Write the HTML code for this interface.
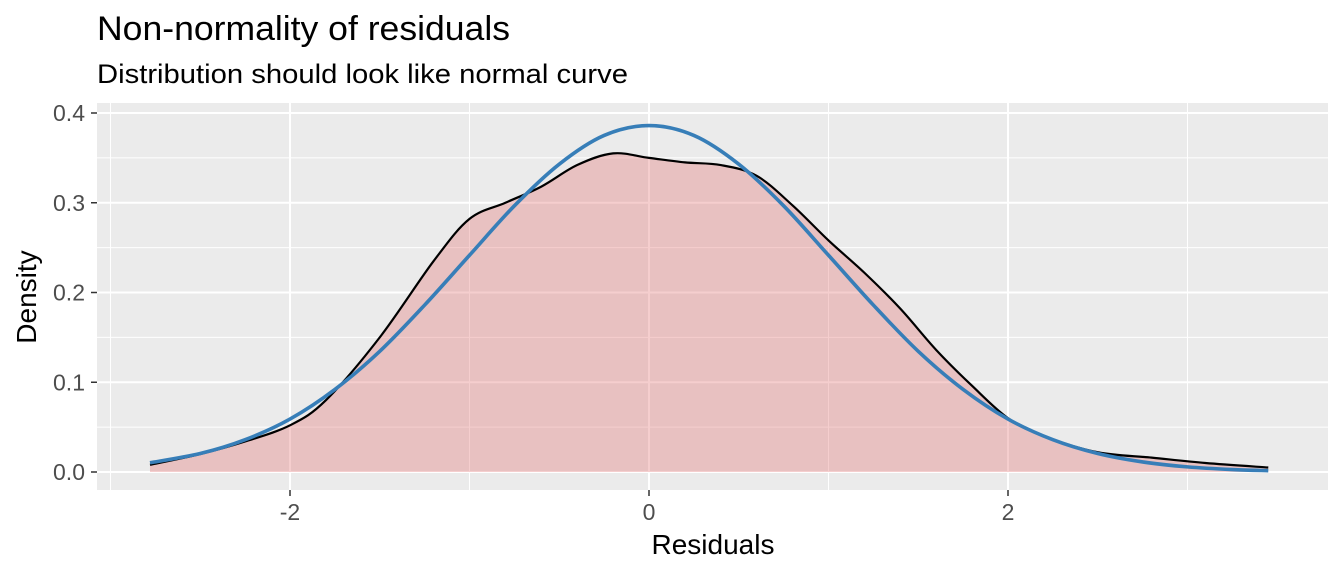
<!DOCTYPE html>
<html><head><meta charset="utf-8"><style>
body{margin:0;background:#fff;font-family:"Liberation Sans",Arial,sans-serif}
svg text{font-family:"Liberation Sans",Arial,sans-serif}
</style></head><body>
<svg id="chart" width="1344" height="576" xmlns="http://www.w3.org/2000/svg">
<text x="97" y="40" font-size="34" textLength="413" lengthAdjust="spacingAndGlyphs" fill="#000">Non-normality of residuals</text>
<text x="97" y="83" font-size="27" textLength="531" lengthAdjust="spacingAndGlyphs" fill="#000">Distribution should look like normal curve</text>
<rect x="97" y="103" width="1231" height="387" fill="#ebebeb"/>
<g id="grid"></g>
<g id="marks"></g>
<g id="axes"></g>
<text x="713" y="554" font-size="28" text-anchor="middle" fill="#000">Residuals</text>
<text transform="translate(36,297) rotate(-90)" font-size="28" text-anchor="middle" fill="#000">Density</text>
</svg>
<script>
const densX=[-2.78,-2.5,-2.25,-2.0,-1.8,-1.5,-1.2,-1.0,-0.8,-0.6,-0.4,-0.2,0,0.2,0.4,0.6,0.8,1.0,1.2,1.4,1.6,1.8,2.0,2.2,2.5,2.8,3.1,3.45];
const densY=[0.008,0.02,0.034,0.052,0.08,0.15,0.235,0.282,0.300,0.318,0.342,0.355,0.350,0.345,0.342,0.330,0.297,0.258,0.222,0.182,0.136,0.096,0.060,0.040,0.022,0.016,0.010,0.005];
const normX=[-2.78,-2.5,-2.25,-2,-1.75,-1.5,-1.25,-1,-0.75,-0.5,-0.25,0,0.25,0.5,0.75,1,1.25,1.5,1.75,2,2.25,2.5,2.75,3,3.25,3.45];
const normY=[0.0103,0.0206,0.036,0.059,0.092,0.1345,0.186,0.2415,0.2966,0.343,0.375,0.386,0.375,0.343,0.2966,0.2415,0.186,0.1345,0.092,0.059,0.036,0.0206,0.0112,0.0057,0.0027,0.0015];
const xTicks=[-2,0,2];
const xTickLabels=["-2","0","2"];
const yTicks=[0,0.1,0.2,0.3,0.4];
const yTickLabels=["0.0","0.1","0.2","0.3","0.4"];
const X=v=>649+v*179.5, Y=v=>472-v*897.5;
const NS="http://www.w3.org/2000/svg";
function mk(tag,attrs,parent){const e=document.createElementNS(NS,tag);for(const k in attrs)e.setAttribute(k,attrs[k]);parent.appendChild(e);return e;}
const grid=document.getElementById('grid'),marks=document.getElementById('marks'),axes=document.getElementById('axes');
[-3,-1,1,3].forEach(v=>{const l=mk('line',{x1:X(v),x2:X(v),y1:103,y2:490,stroke:'#fff','stroke-width':1},grid);

});
[0.05,0.15,0.25,0.35].forEach(v=>{const l=mk('line',{x1:97,x2:1328,y1:Y(v),y2:Y(v),stroke:'#fff','stroke-width':1},grid);

});
xTicks.forEach((v,i)=>{const l=mk('line',{x1:X(v),x2:X(v),y1:103,y2:490,stroke:'#fff','stroke-width':2},grid);


const t=mk('line',{x1:X(v),x2:X(v),y1:490,y2:496,stroke:'#333','stroke-width':1.5},axes);


const tx=mk('text',{x:X(v),y:520,'font-size':23,'text-anchor':'middle',fill:'#4d4d4d'},axes);tx.textContent=xTickLabels[i];

});
yTicks.forEach((v,i)=>{const l=mk('line',{x1:97,x2:1328,y1:Y(v),y2:Y(v),stroke:'#fff','stroke-width':2},grid);


const t=mk('line',{x1:91,x2:97,y1:Y(v),y2:Y(v),stroke:'#333','stroke-width':1.5},axes);


const tx=mk('text',{x:85,y:Y(v)+8,'font-size':23,'text-anchor':'end',fill:'#4d4d4d'},axes);tx.textContent=yTickLabels[i];

});
function path(xs,ys){const p=xs.map((x,i)=>[X(x),Y(ys[i])]);let d=`M${p[0][0]},${p[0][1]}`;
for(let i=0;i<p.length-1;i++){const p0=p[i-1]||p[i],p1=p[i],p2=p[i+1],p3=p[i+2]||p2;
d+=` C${p1[0]+(p2[0]-p0[0])/6},${p1[1]+(p2[1]-p0[1])/6} ${p2[0]-(p3[0]-p1[0])/6},${p2[1]-(p3[1]-p1[1])/6} ${p2[0]},${p2[1]}`;}return d;}
const dd=path(densX,densY);
const area=mk('path',{d:dd+` L${X(densX[densX.length-1])},${Y(0)} L${X(densX[0])},${Y(0)} Z`,fill:'rgba(227,115,115,0.35)',stroke:'none'},marks);


const dl=mk('path',{d:dd,fill:'none',stroke:'#000','stroke-width':2.2},marks);


const nl=mk('path',{d:path(normX,normY),fill:'none',stroke:'#377eb8','stroke-width':3.6},marks);


</script>
</body></html>
